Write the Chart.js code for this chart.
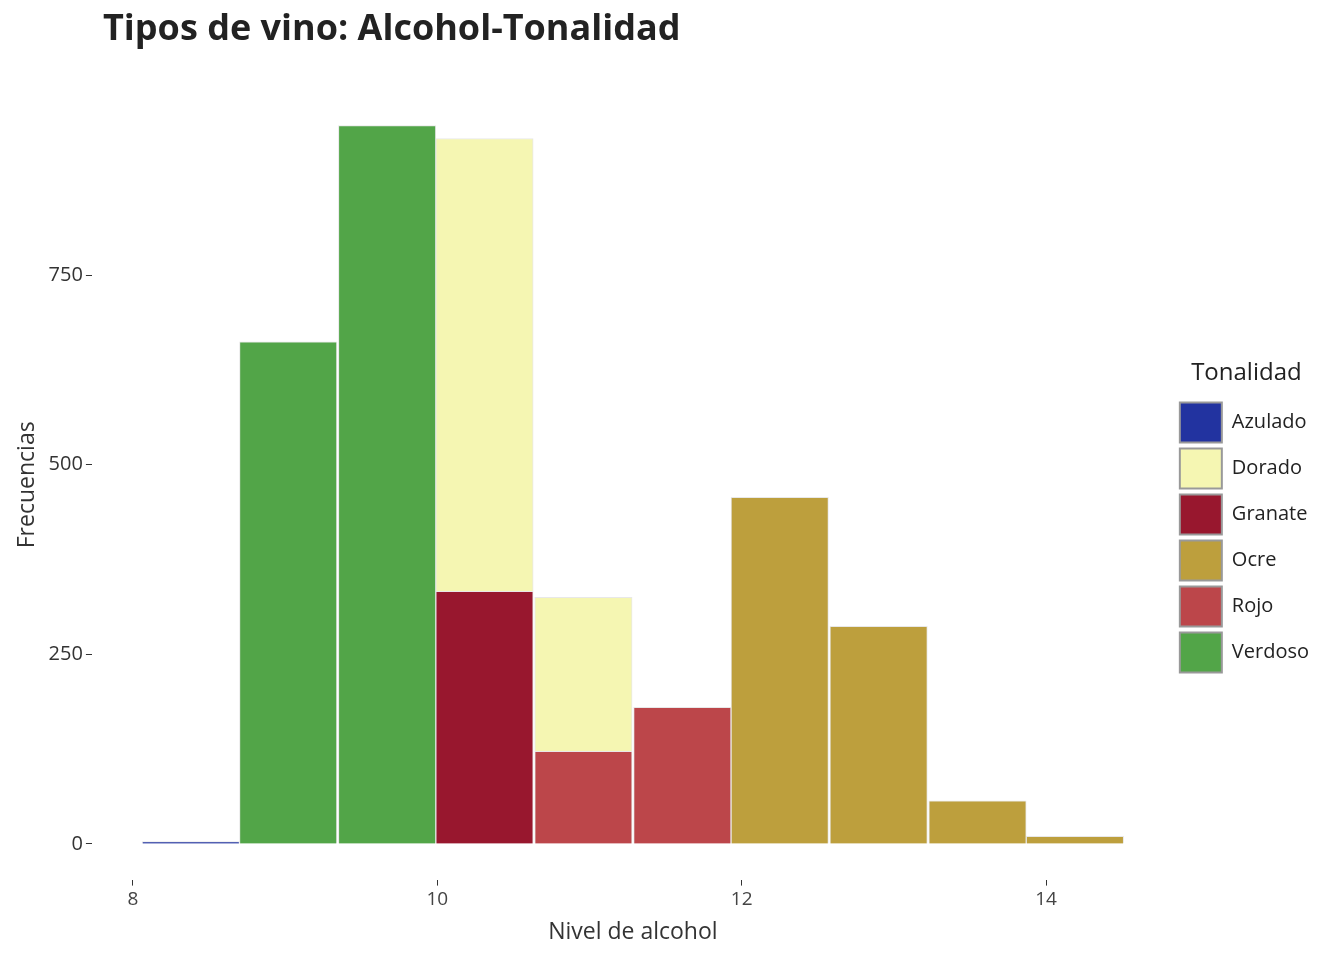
<!DOCTYPE html>
<html>
<head>
<meta charset="utf-8">
<script src="https://cdn.jsdelivr.net/npm/chart.js@4"></script>
<style>
	body { margin: 0; background: #fff; }
	#wrap { width: 1344px; height: 960px; }
</style>
</head>
<body>
<div id="wrap"><canvas id="chart"></canvas></div>
<script>
// bin centres (nivel de alcohol), width ~0.646
var binCenters = [8.38, 9.02, 9.67, 10.31, 10.96, 11.61, 12.25, 12.90, 13.55, 14.19];
var azulado = [3, 0, 0, 0, 0, 0, 0, 0, 0, 0];
var dorado  = [0, 0, 0, 597, 203, 0, 0, 0, 0, 0];
var granate = [0, 0, 0, 333, 0, 0, 0, 0, 0, 0];
var ocre    = [0, 0, 0, 0, 0, 0, 457, 287, 57, 10];
var rojo    = [0, 0, 0, 0, 122, 180, 0, 0, 0, 0];
var verdoso = [0, 662, 947, 0, 0, 0, 0, 0, 0, 0];
var xTicks = [8, 10, 12, 14];
var yTicks = [0, 250, 500, 750];

function pts(arr){
	return arr.map(function(v, i){ return { x: binCenters[i], y: v }; });
}

// first dataset sits at the bottom of the stack
var series = [
	['Verdoso', verdoso, '#52a548'],
	['Rojo', rojo, '#bc464a'],
	['Ocre', ocre, '#bd9f3d'],
	['Granate', granate, '#98172e'],
	['Dorado', dorado, '#f5f6b2'],
	['Azulado', azulado, '#2233a0']
];

var font = "'Open Sans', sans-serif";
Chart.defaults.font.family = font;
Chart.defaults.color = '#333';

// title drawn by hand so it can start where ggplot puts it
var titlePlugin = {
	id: 'leftTitle',
	afterDraw: function(chart){
		var ctx = chart.ctx;
		ctx.save();
		ctx.font = 'bold 36px ' + font;
		ctx.fillStyle = '#222';
		ctx.textBaseline = 'middle';
		ctx.fillText('Tipos de vino: Alcohol-Tonalidad', 103, 30);
		ctx.restore();
	}
};

new Chart(document.getElementById('chart'), {
	type: 'bar',
	plugins: [titlePlugin],
	data: {
		datasets: series.map(function(s){
			return {
				label: s[0],
				data: pts(s[1]),
				backgroundColor: s[2],
				borderColor: '#e8e8e8',
				borderWidth: 1,
				barPercentage: 1,
				categoryPercentage: 1
			};
		})
	},
	options: {
		responsive: true,
		maintainAspectRatio: false,
		animation: false,
		layout: { padding: { left: 10, right: 25, top: 90, bottom: 10 } },
		plugins: {
			legend: {
				position: 'right',
				reverse: true,
				title: { display: true, text: 'Tonalidad', font: { size: 24 }, color: '#222', padding: { bottom: 6 } },
				labels: {
					boxWidth: 42, boxHeight: 40, font: { size: 20 }, color: '#222', padding: 6,
					generateLabels: function(chart){
						return chart.data.datasets.map(function(d, i){
							return { text: d.label, fillStyle: d.backgroundColor, strokeStyle: '#999', lineWidth: 2, datasetIndex: i };
						});
					}
				}
			},
			tooltip: { enabled: false }
		},
		scales: {
			x: {
				type: 'linear',
				stacked: true,
				offset: false,
				min: 7.73, max: 14.84,
				afterBuildTicks: function(s){ s.ticks = xTicks.map(function(v){ return { value: v }; }); },
				grid: { display: true, offset: false, drawOnChartArea: false, drawTicks: true, tickLength: 6, color: '#333' },
				border: { display: false },
				ticks: { font: { size: 19 }, color: '#444' },
				title: { display: true, text: 'Nivel de alcohol', font: { size: 23 }, color: '#333' }
			},
			y: {
				stacked: true,
				min: -47, max: 994,
				afterBuildTicks: function(s){ s.ticks = yTicks.map(function(v){ return { value: v }; }); },
				grid: { display: true, drawOnChartArea: false, drawTicks: true, tickLength: 6, color: '#333' },
				border: { display: false },
				ticks: { font: { size: 20 }, color: '#333' },
				title: { display: true, text: 'Frecuencias', font: { size: 23 }, color: '#333' }
			}
		}
	}
});
</script>
</body>
</html>
